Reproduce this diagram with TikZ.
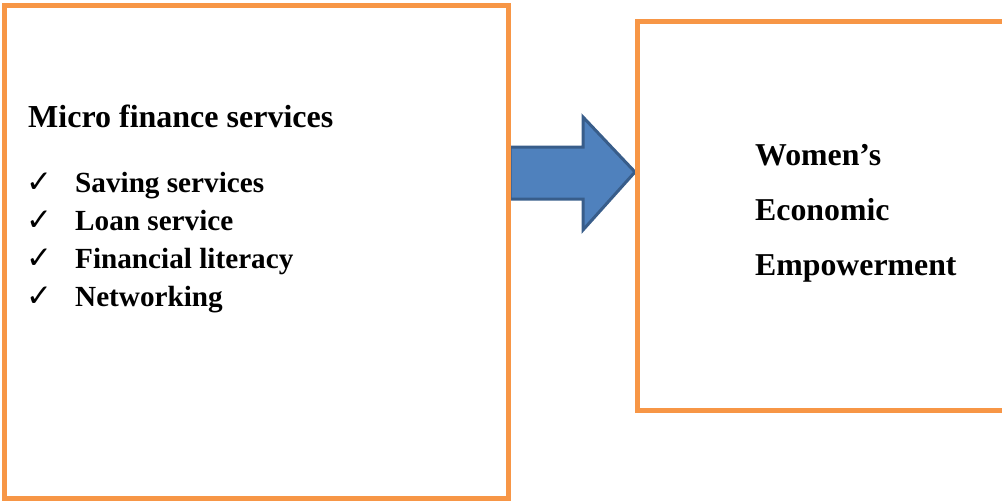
\documentclass[tikz,border=0pt]{standalone}
\usepackage{fontspec}
\setmainfont{Liberation Serif}
\newfontfamily\checkfont{DejaVu Sans}
\definecolor{boxorange}{HTML}{F79646}
\definecolor{arrowfill}{HTML}{4F81BD}
\definecolor{arrowline}{HTML}{385D8A}
\begin{document}
\begin{tikzpicture}[x=1pt,y=-1pt,
  frame/.style={draw=boxorange, line width=5pt, inner sep=0pt, outer sep=0pt, anchor=north west},
  heading/.style={anchor=base west, inner sep=0pt, font=\bfseries\fontsize{32}{38}\selectfont},
  item/.style={anchor=base west, inner sep=0pt, font=\bfseries\fontsize{29.2}{34}\selectfont},
  tick/.style={anchor=base west, inner sep=0pt, font=\checkfont\fontsize{31}{36}\selectfont},
  outcome/.style={anchor=base west, inner sep=0pt, font=\bfseries\fontsize{31.8}{38}\selectfont}]
\useasboundingbox (0,0) rectangle (1002,501);

% block arrow between the two boxes
\draw[draw=arrowline, fill=arrowfill, line width=3pt, line join=miter]
  (510,147) -- (583,147) -- (583,117) -- (635,172) -- (583,230) -- (583,199) -- (510,199) -- cycle;

% the two frames
\node[frame, minimum width=504pt, minimum height=493pt] (services) at (4.5,5.5) {};
\node[frame, minimum width=400pt, minimum height=388.5pt] (outcome) at (637.5,21.5) {};

% left box contents
\node[heading] (title) at (28,127) {Micro finance services};
\node[tick] (t1) at (26,192) {✓};
\node[item] (i1) at (75,192) {Saving services};
\node[tick] (t2) at (26,230) {✓};
\node[item] (i2) at (75,230) {Loan service};
\node[tick] (t3) at (26,268) {✓};
\node[item] (i3) at (75,268) {Financial literacy};
\node[tick] (t4) at (26,306) {✓};
\node[item] (i4) at (75,306) {Networking};

% right box contents
\node[outcome] (w1) at (755,165) {Women’s};
\node[outcome] (w2) at (755,220) {Economic};
\node[outcome] (w3) at (755,275) {Empowerment};
\end{tikzpicture}
\end{document}
